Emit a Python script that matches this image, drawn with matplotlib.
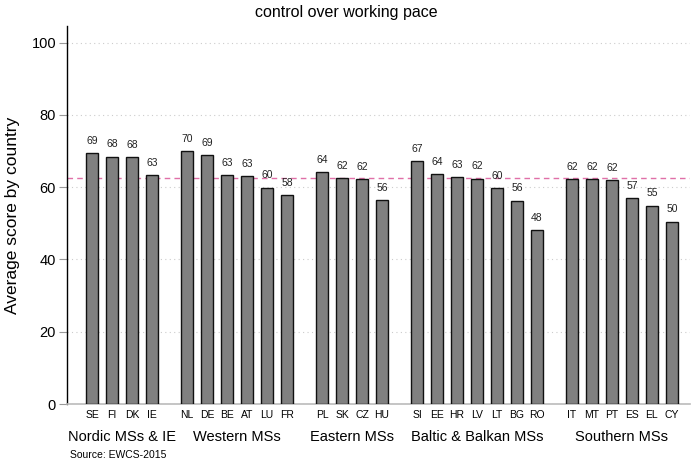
import matplotlib
matplotlib.use("Agg")
import matplotlib.pyplot as plt
import numpy as np

plt.rcParams['font.family'] = ['Liberation Sans', 'DejaVu Sans']

groups = ["Nordic MSs & IE", "Western MSs", "Eastern MSs", "Baltic & Balkan MSs", "Southern MSs"]
countries = [
    ["SE", "FI", "DK", "IE"],
    ["NL", "DE", "BE", "AT", "LU", "FR"],
    ["PL", "SK", "CZ", "HU"],
    ["SI", "EE", "HR", "LV", "LT", "BG", "RO"],
    ["IT", "MT", "PT", "ES", "EL", "CY"],
]
values = [
    [69.4, 68.5, 68.3, 63.4],
    [70.1, 68.8, 63.4, 63.0, 59.9, 57.8],
    [64.1, 62.5, 62.2, 56.4],
    [67.3, 63.6, 62.7, 62.4, 59.7, 56.3, 48.2],
    [62.3, 62.3, 61.9, 56.9, 54.9, 50.5],
]
mean_value = 62.5
yticks = [0, 20, 40, 60, 80, 100]

fig = plt.figure(figsize=(6.92, 4.66), dpi=100)
ax = fig.add_axes([0.097, 0.133, 0.9, 0.811])

gap = 0.75
pos = 0.0
all_x, all_v, all_c = [], [], []
group_centers = []
for gi, (cs, vs) in enumerate(zip(countries, values)):
    xs = []
    for c, v in zip(cs, vs):
        xs.append(pos)
        all_x.append(pos); all_v.append(v); all_c.append(c)
        pos += 1
    group_centers.append(np.mean(xs))
    pos += gap

ax.bar(all_x, all_v, width=0.6, color="#808080", edgecolor="#111111", linewidth=1.0, zorder=3)
for x, v in zip(all_x, all_v):
    ax.text(x, v + 2.0, f"{v:.0f}", ha="center", va="bottom", fontsize=7.5, color="#222222", zorder=4)

ax.axhline(mean_value, color="#e070a8", linestyle=(0, (4, 3)), linewidth=1.0, zorder=2)

ax.set_xlim(-1.25, all_x[-1] + 0.9)
ax.set_ylim(0, 104.6)
ax.set_yticks(yticks)
ax.set_yticklabels([str(t) for t in yticks], fontsize=10.5)
ax.yaxis.grid(True, linestyle=(0, (1, 3)), color="#cccccc", linewidth=0.8, zorder=0)
ax.tick_params(axis="y", length=6, color="#999999", pad=2)
ax.set_xticks(all_x)
ax.set_xticklabels(all_c, fontsize=7.5)
ax.tick_params(axis="x", length=0, pad=4)

for s in ["top", "right"]:
    ax.spines[s].set_visible(False)
ax.spines["left"].set_color("black")
ax.spines["left"].set_linewidth(1.0)
ax.spines["bottom"].set_color("#bbbbbb")
ax.spines["bottom"].set_linewidth(1.2)

for gc, g in zip(group_centers, groups):
    ax.text(gc, -9.0, g, ha="center", va="center", fontsize=10.5, transform=ax.transData, clip_on=False)

ax.set_ylabel("Average score by country", fontsize=12.5, labelpad=8)
fig.text(0.5, 0.973, "control over working pace", ha="center", va="center", fontsize=11.5)
fig.text(0.101, 0.024, "Source: EWCS-2015", ha="left", va="center", fontsize=7.5)

fig.savefig("out.png", dpi=100)
